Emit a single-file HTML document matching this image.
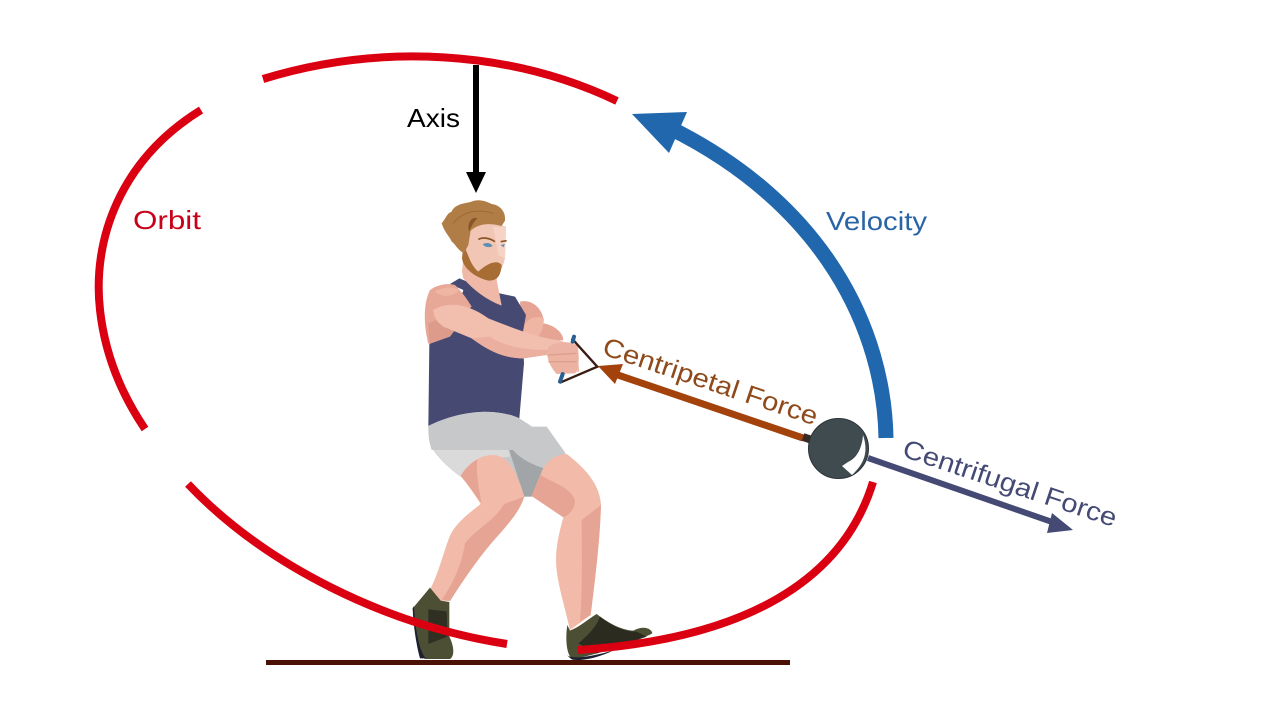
<!DOCTYPE html>
<html><head><meta charset="utf-8"><style>
html,body{margin:0;padding:0;background:#fff;width:1280px;height:720px;overflow:hidden}
svg{display:block}
text{font-family:"Liberation Sans",sans-serif}
</style></head><body>
<svg width="1280" height="720" viewBox="0 0 1280 720" xmlns="http://www.w3.org/2000/svg">
<rect width="1280" height="720" fill="#fff"/>
<rect x="266" y="660" width="524" height="5" fill="#4a1204"/>

<!-- shorts & legs (zoom 2 coords) -->
<g transform="translate(400,440) scale(.33333)">
 <path d="M88,-40 L440,-40 L497,40 L430,85 L395,170 L372,170 L182,110 C140,80 105,45 90,10 Z" fill="#c6c8ca"/>
 <path d="M90,0 C105,45 140,80 182,110 L240,60 L330,50 L315,-20 L140,-30 Z" fill="#dadada"/>
 <path d="M318,0 C345,50 385,70 432,85 L397,170 L372,170 Z" fill="#a2a5a7"/>
 <path d="M90,-5 C105,-15 130,-10 135,10 C125,28 105,25 92,12 Z" fill="#b4b6b8"/>
 <path d="M182,108 C200,75 235,45 280,45 C320,45 350,90 373,170 C362,205 340,235 300,280 C240,345 190,420 150,483 L120,482 L92,445 C115,400 130,340 145,300 C160,255 200,225 242,192 C225,165 205,135 182,108 Z" fill="#f2bba9"/>
 <path d="M182,108 C195,85 215,68 232,58 C228,100 235,135 245,190 C225,165 205,135 182,108 Z" fill="#e6a594"/>
 <path d="M373,168 C362,205 340,235 300,280 C240,345 190,420 150,483 L125,480 C165,420 185,370 195,310 C225,270 285,240 310,195 C335,180 355,180 373,168 Z" fill="#e6a594"/>
 <path d="M395,168 L425,95 C440,60 470,42 500,42 C550,80 600,130 603,195 C600,300 585,420 572,525 L510,570 C495,500 468,420 468,360 C468,310 480,270 490,232 Z" fill="#f2bba9"/>
 <path d="M395,168 L422,105 C460,130 510,140 525,180 C525,205 510,225 490,232 Z" fill="#e6a594"/>
 <path d="M545,240 L603,195 C600,300 585,420 572,525 L540,545 C548,440 545,340 545,240 Z" fill="#e6a594"/>
 <path d="M90,443 L122,482 L148,486 L148,590 C165,625 162,650 150,657 L75,657 C55,640 45,570 38,505 Z" fill="#4d4f34"/>
 <path d="M38,505 L42,498 C45,570 60,640 78,655 L60,655 C50,620 40,560 38,505 Z" fill="#1c2030"/>
 <path d="M85,508 L140,514 L142,590 L85,612 Z" fill="#2f2f22"/>
 <path d="M502,555 L510,572 C540,560 560,540 590,522 C620,545 660,570 700,572 C730,555 755,565 757,580 C700,610 600,640 520,658 C500,650 495,600 502,555 Z" fill="#4d4f34"/>
 <path d="M600,530 C640,560 670,575 710,575 L740,590 L590,640 L535,610 C560,590 590,560 600,530 Z" fill="#2b2c1f"/>
 <path d="M500,645 C520,660 570,650 640,632 C590,655 540,665 515,658 Z" fill="#1c2030"/>
</g>

<!-- upper body (zoom 1 coords) -->
<g transform="translate(400,190) scale(.33333)">
 <path d="M360,335 C400,325 435,365 430,400 C465,405 490,430 490,450 L440,460 L390,450 L365,420 Z" fill="#e6a594"/>
 <path d="M368,420 C375,385 410,375 432,385 C430,420 420,440 400,450 Z" fill="#f0b6a4"/>
 <path d="M85,708 L88,462 L150,430 L190,300 L150,282 L178,265 L275,305 L345,320 L378,375 L368,430 L372,520 L358,685 C280,650 170,665 85,708 Z" fill="#464a72"/>
 <path d="M85,708 C170,665 280,650 358,685 C400,710 450,750 480,780 L95,780 C85,750 85,730 85,708 Z" fill="#c6c8ca"/>
 <path d="M190,265 L186,245 L190,205 L300,200 L290,270 L305,347 C260,330 220,300 190,265 Z" fill="#f0b9a7"/>
 <path d="M165,285 C185,305 200,325 215,350 L85,462 C70,400 70,340 90,300 C110,285 140,278 165,285 Z" fill="#e8a898"/>
 <path d="M105,305 C130,290 160,290 178,300 C160,320 130,325 105,305 Z" fill="#f0b6a4"/>
 <path d="M88,462 L150,440 L165,420 L110,390 L85,400 Z" fill="#dc9b8b"/>
 <path d="M100,360 C150,330 210,345 265,385 C330,410 400,440 470,450 L530,465 L538,545 L470,552 L440,495 L370,505 C300,505 250,470 215,445 L130,410 C110,395 100,380 100,360 Z" fill="#f2bfae"/>
 <path d="M215,445 C250,470 300,505 370,505 L440,495 L445,480 C380,480 310,470 270,440 Z" fill="#eaaf9e"/>
 <path d="M445,470 C480,450 520,455 533,470 C540,510 535,540 525,550 L470,552 C450,530 435,500 445,470 Z" fill="#ecb3a2"/>
 <path d="M445,495 L530,490 M445,515 L530,515" stroke="#dd9f8e" stroke-width="4" fill="none"/>
 <path d="M186,130 C195,100 215,90 250,95 L318,110 L315,205 C305,240 295,270 265,272 C235,270 205,245 190,215 Z" fill="#f2c6b5"/>
 <path d="M280,110 L318,112 L315,205 L295,195 Z" fill="#f7d3c5"/>
 <path d="M190,165 C205,190 210,225 235,245 C255,225 290,205 305,225 C302,255 295,272 265,272 C225,262 190,235 186,205 Z" fill="#a86c35"/>
 <path d="M125,100 C135,90 140,70 155,65 C165,40 200,40 215,35 C235,25 262,35 275,42 C300,45 318,65 315,92 L305,108 C270,98 235,100 212,122 L205,165 L192,190 C170,178 165,160 155,155 C150,140 135,130 125,100 Z" fill="#b07d47"/>
 <path d="M205,115 C205,90 220,80 232,85 C222,95 215,105 208,125 Z" fill="#8a5526"/>
 <path d="M160,100 C185,65 230,55 280,70" fill="none" stroke="#9c6a36" stroke-width="3"/>
 <path d="M235,148 C250,140 270,145 285,155 M302,155 L320,152" stroke="#8a5526" stroke-width="5" fill="none"/>
 <path d="M248,163 C258,156 272,158 278,168 C268,174 256,172 248,163 Z" fill="#5c8fb5"/>
 <path d="M302,165 L315,162 L310,172 Z" fill="#5c8fb5"/>
 <path d="M515,445 L592,530 L480,578" fill="none" stroke="#3a1c12" stroke-width="7"/>
 <path d="M518,455 L522,440 M480,575 L488,552" stroke="#2a6090" stroke-width="12" stroke-linecap="round"/>
</g>

<!-- orbit -->
<g fill="none" stroke="#db0011" stroke-width="8">
 <path d="M263,79 C380,43 510,50 617,101"/>
 <path d="M201,110 C120,160 92,240 100,310 C105,355 122,395 145,429"/>
 <path d="M188,484 C265,565 385,625 507,644"/>
 <path d="M578,650 C730,640 840,590 873,482"/>
</g>

<!-- axis -->
<rect x="473" y="65" width="6" height="110" fill="#000"/>
<polygon points="466,172 486,172 476,193" fill="#000"/>

<!-- velocity -->
<path d="M886,438 C884,330 825,205 670,128" fill="none" stroke="#2067ae" stroke-width="15"/>
<polygon points="632,114 687,112 669,153" fill="#2067ae"/>

<!-- centripetal -->
<path d="M803,438 L612,373" stroke="#a3420b" stroke-width="7" fill="none"/>
<polygon points="598,366 623,364 615,384" fill="#a3420b"/>
<path d="M803,437 L812,440" stroke="#3a2a26" stroke-width="8"/>

<!-- centrifugal -->
<path d="M868,458 L1055,523" stroke="#454a75" stroke-width="6" fill="none"/>
<polygon points="1073,530 1052,513 1047,533" fill="#454a75"/>

<!-- ball -->
<circle cx="838.5" cy="448.5" r="30" fill="#3f4b4e" stroke="#2b3336" stroke-width="1"/>
<path d="M863,435 C868,450 866,462 852,475 L842,466 L848,462 C857,458 862,448 863,435 Z" fill="#fff"/>

<!-- labels -->
<text x="407" y="127" font-size="26" fill="#000" textLength="53" lengthAdjust="spacingAndGlyphs">Axis</text>
<text x="133" y="229" font-size="26" fill="#c8001a" textLength="68" lengthAdjust="spacingAndGlyphs">Orbit</text>
<text x="826" y="230" font-size="26" fill="#2a64a5" textLength="101" lengthAdjust="spacingAndGlyphs">Velocity</text>
<text transform="translate(601,354) rotate(18.5)" font-size="26" fill="#8f4a1c" textLength="225" lengthAdjust="spacingAndGlyphs">Centripetal Force</text>
<text transform="translate(901,456) rotate(18.5)" font-size="26" fill="#454a75" textLength="224" lengthAdjust="spacingAndGlyphs">Centrifugal Force</text>
</svg>
</body></html>
